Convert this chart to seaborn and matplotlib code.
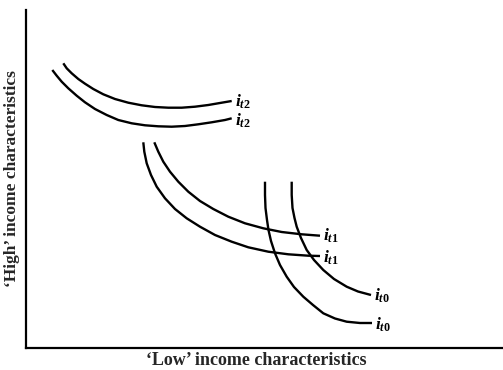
import matplotlib
matplotlib.use("Agg")
import matplotlib.pyplot as plt
import seaborn as sns
import pandas as pd

sns.set_theme(style="white")
plt.rcParams["font.family"] = ["Liberation Serif", "DejaVu Serif"]
plt.rcParams["mathtext.fontset"] = "custom"
plt.rcParams["mathtext.it"] = "Liberation Serif:italic:bold"
plt.rcParams["mathtext.rm"] = "Liberation Serif:bold"

# Indifference curves sampled along their length (x: 'low', y: 'high' characteristics)
t2_upper_x = [37.3, 40.7, 45.7, 52.3, 59, 67.3, 77.3, 89, 102.3, 115.7, 129, 142.3,
              155.7, 169, 182.3, 195.7, 205.7]
t2_upper_y = [284.7, 279.7, 274.7, 269, 264.3, 259, 253.7, 249, 245.3, 242.7, 241, 240.3,
              240.3, 241.3, 243, 245.3, 247]
t2_lower_x = [26.3, 30.7, 35.7, 42.3, 50.7, 59, 69, 80.7, 92.3, 105.7, 119, 132.3,
              145.7, 159, 172.3, 185.7, 199, 205.7]
t2_lower_y = [278, 272.3, 266.3, 259.7, 252.3, 245.7, 239, 233, 228, 224.7, 222.7, 221.7,
              221.3, 222, 223.7, 225.7, 228, 229.7]

t1_upper_x = [128.3, 132.3, 137.3, 144, 152.3, 162.3, 174, 187.3, 202.3, 219, 237.3,
              255.7, 275.7, 294]
t1_upper_y = [205.7, 196.3, 186.3, 176.3, 166.3, 156.3, 147, 139, 131.3, 124.7, 119.7,
              116, 113.7, 112.3]
t1_lower_x = [117.3, 118.3, 120.7, 125, 130.7, 139, 149, 160.7, 174, 189, 205.7, 222.3,
              242.3, 262.3, 282.3, 294]
t1_lower_y = [205.7, 196.3, 184.7, 173, 161.3, 149.7, 139, 129.7, 121.3, 113, 106.3, 100.7,
              96.3, 93.7, 92.3, 92]

t0_right_x = [265.7, 265.7, 266.5, 268.5, 270.7, 275, 280.7, 288, 297.3, 308, 320.7, 332, 345]
t0_right_y = [166.3, 153, 140, 130, 121.3, 110, 98, 88, 78, 69, 61.3, 56.5, 53]
t0_left_x = [239, 239, 239.5, 241, 242.5, 245, 249, 254, 260.7, 268, 277.3, 287, 297.3,
             309, 320.7, 334, 346]
t0_left_y = [166.3, 153, 140, 128, 118, 107, 94.7, 83, 71.3, 61, 51.3, 43, 34.7,
             29.5, 26.3, 25, 25]

curve_labels = [r"$i_{t2}$", r"$i_{t2}$", r"$i_{t1}$", r"$i_{t1}$", r"$i_{t0}$", r"$i_{t0}$"]
curves = [
    (t2_upper_x, t2_upper_y),
    (t2_lower_x, t2_lower_y),
    (t1_upper_x, t1_upper_y),
    (t1_lower_x, t1_lower_y),
    (t0_right_x, t0_right_y),
    (t0_left_x, t0_left_y),
]
# vertical nudge (points) of each name below its curve end
label_drop = [3.8, 5.0, 3.8, 5.0, 3.8, 4.5]

frames = []
for k, (xs, ys) in enumerate(curves):
    frames.append(pd.DataFrame({"x": xs, "y": ys, "curve": k}))
df = pd.concat(frames, ignore_index=True)

fig = plt.figure(figsize=(5.03, 3.70), dpi=100)
ax = fig.add_axes([26 / 503, 22 / 370, 477 / 503, 338 / 370])

sns.lineplot(data=df, x="x", y="y", units="curve", estimator=None, sort=False,
             color="black", linewidth=1.7, ax=ax, legend=False)
for line in ax.get_lines():
    line.set_solid_joinstyle("round")
    line.set_solid_capstyle("butt")

# curve names sit just past the end of each curve, baseline slightly below it
for (xs, ys), lab, drop in zip(curves, curve_labels, label_drop):
    ax.annotate(lab, xy=(xs[-1], ys[-1]), xytext=(2.5, -drop), textcoords="offset points",
                fontsize=12.5, va="baseline", ha="left", color="black")

ax.set_xlim(0, 477)
ax.set_ylim(0, 338)
ax.set_xticks([])
ax.set_yticks([])
for side in ("top", "right"):
    ax.spines[side].set_visible(False)
for side in ("left", "bottom"):
    ax.spines[side].set_color("black")
    ax.spines[side].set_linewidth(1.6)

ax.set_xlabel("\u2018Low\u2019 income characteristics", fontsize=13, fontweight="bold")
ax.set_ylabel("\u2018High\u2019 income characteristics", fontsize=12.5, fontweight="bold",
              labelpad=4)
ax.xaxis.set_label_coords(0.482, -0.012, transform=ax.transAxes)
ax.xaxis.label.set_va("top")

fig.savefig("out.png", dpi=100)
